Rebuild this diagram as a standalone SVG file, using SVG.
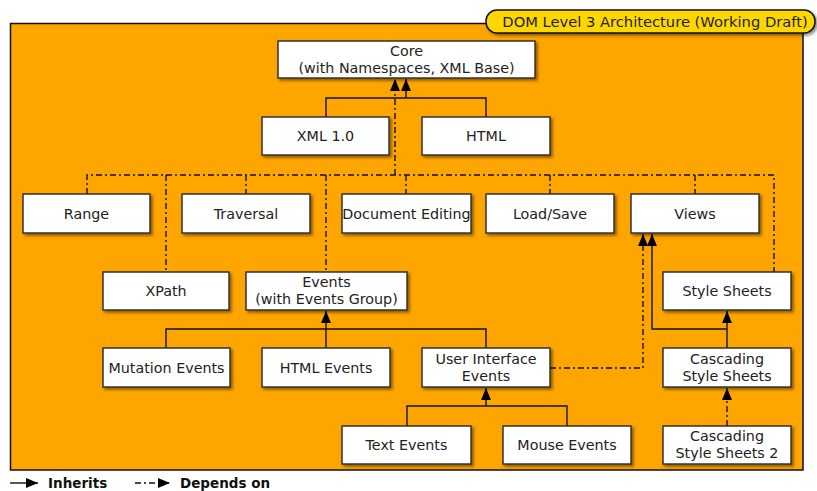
<svg xmlns="http://www.w3.org/2000/svg" width="817" height="491" viewBox="0 0 817 491">
<defs>
<filter id="sh" x="-10%" y="-20%" width="130%" height="160%">
<feDropShadow dx="2" dy="2" stdDeviation="1.5" flood-color="#000" flood-opacity="0.45"/>
</filter>
<marker id="ah" viewBox="0 0 12 10" refX="12" refY="5" markerWidth="12" markerHeight="10" markerUnits="userSpaceOnUse" orient="auto">
<path d="M0,0 L12,5 L0,10 Z" fill="#000"/>
</marker>
</defs>
<style>
.box{fill:#fff;stroke:#333;stroke-width:1.5;filter:url(#sh)}
.t{font-family:"DejaVu Sans","Liberation Sans",sans-serif;font-size:14.3px;fill:#222;text-anchor:middle}
.s{fill:none;stroke:#111;stroke-width:1.4}
.d{fill:none;stroke:#111;stroke-width:1.4;stroke-dasharray:6 3 2 3}
.lg{font-family:"DejaVu Sans","Liberation Sans",sans-serif;font-size:13.5px;font-weight:bold;fill:#111}
</style>
<rect x="0" y="0" width="817" height="491" fill="#fff"/>
<rect x="10.5" y="23.5" width="792.5" height="446.5" fill="#FFA500" stroke="#111" stroke-width="1.5"/>
<g id="title">
<rect x="486" y="10" width="329" height="23" rx="11" fill="#FFD700" stroke="#111" stroke-width="1.5" filter="url(#sh)"/>
<text x="655" y="27" class="t" style="font-size:14.7px">DOM Level 3 Architecture (Working Draft)</text>
</g>
<g id="connectors">
<polyline class="s" points="326,117 326,98 486,98 486,117"/>
<line class="s" x1="406" y1="98" x2="406" y2="79" marker-end="url(#ah)"/>
<polyline class="d" points="87,194 87,175 774,175 774,272"/>
<line class="d" x1="166" y1="175" x2="166" y2="272"/>
<line class="d" x1="246" y1="175" x2="246" y2="194"/>
<line class="d" x1="326" y1="175" x2="326" y2="272"/>
<line class="d" x1="406" y1="175" x2="406" y2="194"/>
<line class="d" x1="550" y1="175" x2="550" y2="194"/>
<line class="d" x1="695" y1="175" x2="695" y2="194"/>
<line class="d" x1="395" y1="175" x2="395" y2="79" marker-end="url(#ah)"/>
<polyline class="s" points="166,348 166,329 486,329 486,348"/>
<line class="s" x1="326" y1="348" x2="326" y2="311" marker-end="url(#ah)"/>
<polyline class="s" points="407,426 407,406 567,406 567,426"/>
<line class="s" x1="486" y1="406" x2="486" y2="388" marker-end="url(#ah)"/>
<polyline class="d" points="550,368 643,368 643,234" marker-end="url(#ah)"/>
<line class="s" x1="727" y1="348" x2="727" y2="311" marker-end="url(#ah)"/>
<polyline class="s" points="727,329 652,329 652,234" marker-end="url(#ah)"/>
<line class="d" x1="727" y1="426" x2="727" y2="388" marker-end="url(#ah)"/>
</g>
<g id="core"><rect class="box" x="278" y="41" width="257" height="37"/><text class="t" x="406.5" y="56">Core</text><text class="t" x="406.5" y="73">(with Namespaces, XML Base)</text></g>
<g id="xml"><rect class="box" x="262" y="117" width="127" height="38"/><text class="t" x="325.5" y="141">XML 1.0</text></g>
<g id="html"><rect class="box" x="422" y="117" width="128" height="38"/><text class="t" x="486" y="141">HTML</text></g>
<g id="range"><rect class="box" x="23" y="194" width="127" height="39"/><text class="t" x="86.5" y="218.5">Range</text></g>
<g id="traversal"><rect class="box" x="182" y="194" width="128" height="39"/><text class="t" x="246" y="218.5">Traversal</text></g>
<g id="docedit"><rect class="box" x="342" y="194" width="129" height="39"/><text class="t" x="406.5" y="218.5">Document Editing</text></g>
<g id="loadsave"><rect class="box" x="486" y="194" width="128" height="39"/><text class="t" x="550" y="218.5">Load/Save</text></g>
<g id="views"><rect class="box" x="631" y="194" width="128" height="39"/><text class="t" x="695" y="218.5">Views</text></g>
<g id="xpath"><rect class="box" x="103" y="272" width="126" height="38"/><text class="t" x="166" y="296">XPath</text></g>
<g id="events"><rect class="box" x="246" y="272" width="161" height="38"/><text class="t" x="326.5" y="287">Events</text><text class="t" x="326.5" y="304">(with Events Group)</text></g>
<g id="stylesheets"><rect class="box" x="663" y="272" width="128" height="38"/><text class="t" x="727" y="296">Style Sheets</text></g>
<g id="mutation"><rect class="box" x="103" y="348" width="127" height="39"/><text class="t" x="166.5" y="372.5">Mutation Events</text></g>
<g id="htmlevents"><rect class="box" x="262" y="348" width="128" height="39"/><text class="t" x="326" y="372.5">HTML Events</text></g>
<g id="uievents"><rect class="box" x="422" y="348" width="128" height="39"/><text class="t" x="486" y="364">User Interface</text><text class="t" x="486" y="381">Events</text></g>
<g id="css"><rect class="box" x="663" y="348" width="128" height="39"/><text class="t" x="727" y="364">Cascading</text><text class="t" x="727" y="381">Style Sheets</text></g>
<g id="textevents"><rect class="box" x="342" y="426" width="129" height="38"/><text class="t" x="406.5" y="450">Text Events</text></g>
<g id="mouseevents"><rect class="box" x="503" y="426" width="128" height="38"/><text class="t" x="567" y="450">Mouse Events</text></g>
<g id="css2"><rect class="box" x="663" y="426" width="128" height="38"/><text class="t" x="727" y="441">Cascading</text><text class="t" x="727" y="458">Style Sheets 2</text></g>
<g id="legend">
<line class="s" x1="10" y1="483" x2="38" y2="483" stroke-width="2" marker-end="url(#ah)"/>
<text class="lg" x="48" y="488">Inherits</text>
<line class="d" x1="135" y1="483" x2="170" y2="483" marker-end="url(#ah)"/>
<text class="lg" x="180" y="488">Depends on</text>
</g>
</svg>
